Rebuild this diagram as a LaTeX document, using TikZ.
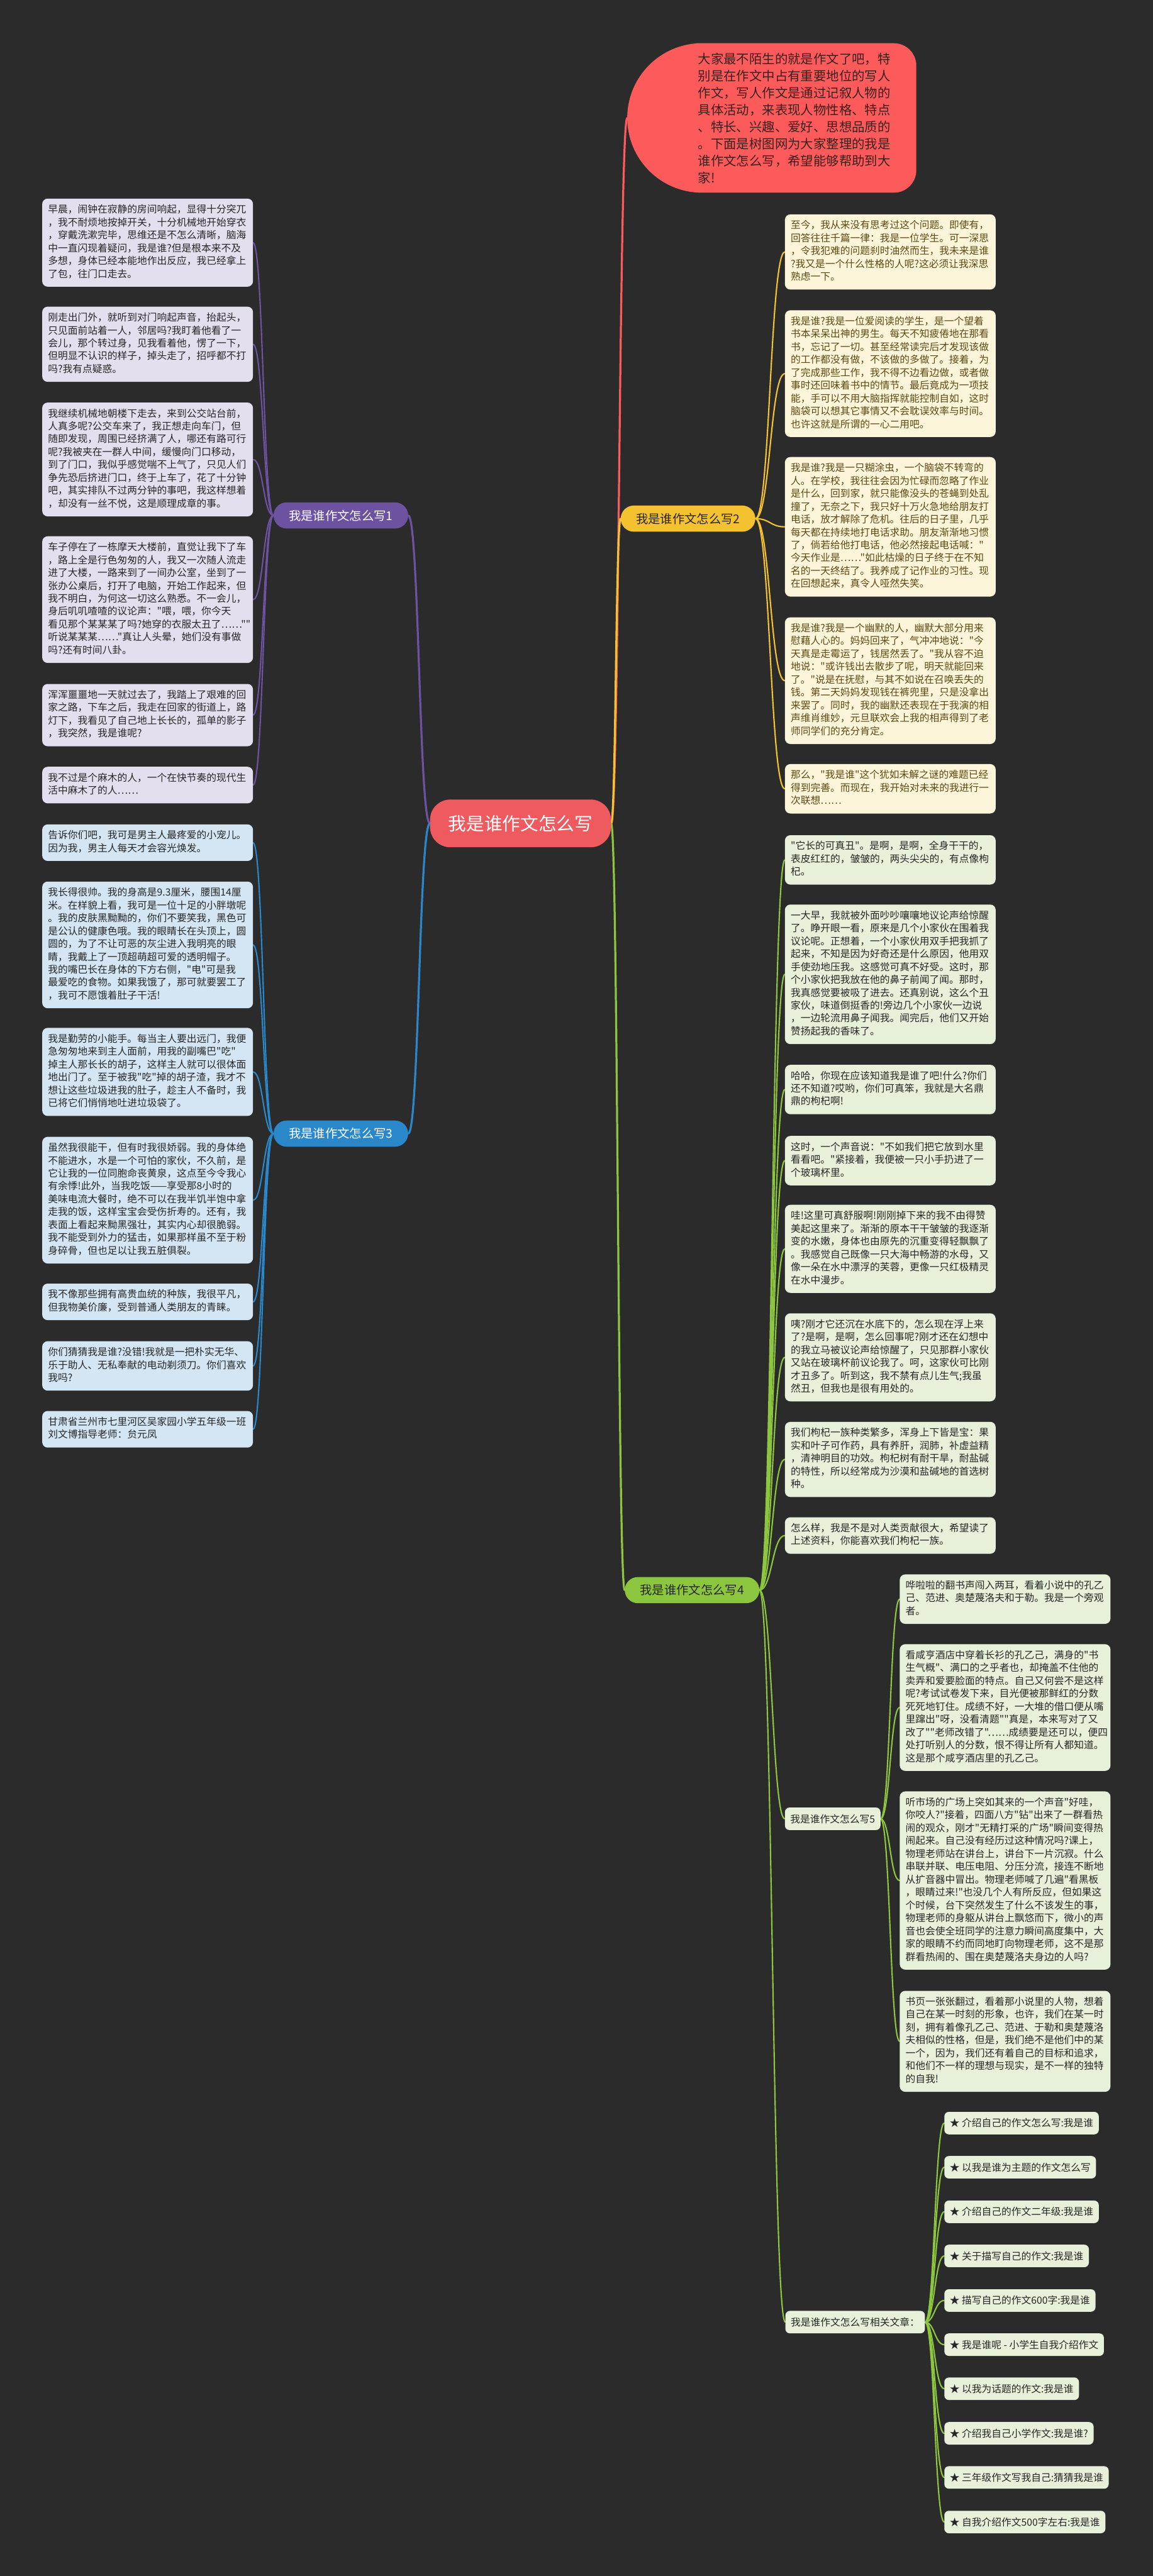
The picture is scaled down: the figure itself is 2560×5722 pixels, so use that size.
\documentclass[tikz,border=0pt]{standalone}
\usepackage{fontspec}
\setmainfont{Noto Sans CJK SC}[Ligatures=TeXOff]
\usetikzlibrary{calc,backgrounds}

\definecolor{pagebg}{HTML}{2B2B2B}
\definecolor{rootred}{HTML}{EF5A5E}
\definecolor{introred}{HTML}{FD5B5B}
\definecolor{introink}{HTML}{3A1E1E}
\definecolor{purplemain}{HTML}{6C52A1}
\definecolor{purpleleaf}{HTML}{E3DFEF}
\definecolor{yellowmain}{HTML}{F4C131}
\definecolor{yellowleaf}{HTML}{FDF5DA}
\definecolor{yellowink}{HTML}{5C4812}
\definecolor{bluemain}{HTML}{2A88CA}
\definecolor{blueleaf}{HTML}{D4E6F3}
\definecolor{greenmain}{HTML}{8CC63F}
\definecolor{greenleaf}{HTML}{E7F1D9}
\definecolor{leafink}{HTML}{262626}

\tikzset{
  link/.style={line width=3pt, line cap=round,
    to path={.. controls ($(\tikztostart)!.5!(\tikztostart -| \tikztotarget)$)
      and ($(\tikztotarget)!.5!(\tikztotarget -| \tikztostart)$) .. (\tikztotarget)}},
  mainlink/.style={link, line width=4.5pt},
  rootnode/.style={fill=rootred, text=white, rounded corners=45pt, minimum width=402pt,
    minimum height=106pt, font=\fontsize{40}{48}\selectfont},
  introtext/.style={text=introink, text width=430pt, align=left, inner sep=0pt,
    font=\fontsize{28.5}{37.7}\selectfont, execute at begin node=\strut, execute at end node=\strut},
  branch/.style={rounded corners=29pt, minimum height=58pt, inner xsep=34pt, font=\fontsize{27}{32}\selectfont},
  leaf/.style={rounded corners=12pt, text width=442pt, align=left, inner xsep=13pt, inner ysep=12pt,
    font=\fontsize{22}{28.6}\selectfont, execute at begin node=\strut, execute at end node=\strut},
  leafL/.style={leaf, anchor=north east},
  leafR/.style={leaf, anchor=north west},
  subnode/.style={fill=greenleaf, text=leafink, rounded corners=10pt, minimum height=50pt,
    inner xsep=12pt, anchor=west, font=\fontsize{22}{26}\selectfont},
  item/.style={subnode},
}

\begin{document}
\begin{tikzpicture}[x=1pt,y=-1pt]
% centre and intro
\node[rootnode] (root) at (1156,1829) {我是谁作文怎么写};
\fill[introred] [rounded corners=50pt] (1700,96) -- (2035,96) -- (2035,428) -- (1700,428)
  [rounded corners=166pt] -- (1393,428) -- (1393,96) -- cycle;
\coordinate (intro) at (1393,262);
\node[introtext, anchor=north west] (introtxt) at (1550,115) {大家最不陌生的就是作文了吧，特\\别是在作文中占有重要地位的写人\\作文，写人作文是通过记叙人物的\\具体活动，来表现人物性格、特点\\、特长、兴趣、爱好、思想品质的\\。下面是树图网为大家整理的我是\\谁作文怎么写，希望能够帮助到大\\家!};

% main branches
\node[branch, fill=purplemain, text=white] (b1) at (757,1145) {我是谁作文怎么写1};
\node[branch, fill=yellowmain, text=leafink] (b2) at (1528,1152) {我是谁作文怎么写2};
\node[branch, fill=bluemain, text=white] (b3) at (757,2518) {我是谁作文怎么写3};
\node[branch, fill=greenmain, text=leafink] (b4) at (1537,3532) {我是谁作文怎么写4};

% branch 1
\node[leafL, fill=purpleleaf, text=leafink] (p1) at (562,441) {早晨，闹钟在寂静的房间响起，显得十分突兀\\，我不耐烦地按掉开关，十分机械地开始穿衣\\，穿戴洗漱完毕，思维还是不怎么清晰，脑海\\中一直闪现着疑问，我是谁?但是根本来不及\\多想，身体已经本能地作出反应，我已经拿上\\了包，往门口走去。};
\node[leafL, fill=purpleleaf, text=leafink] (p2) at (562,681) {刚走出门外，就听到对门响起声音，抬起头，\\只见面前站着一人，邻居吗?我盯着他看了一\\会儿，那个转过身，见我看着他，愣了一下，\\但明显不认识的样子，掉头走了，招呼都不打\\吗?我有点疑惑。};
\node[leafL, fill=purpleleaf, text=leafink] (p3) at (562,894) {我继续机械地朝楼下走去，来到公交站台前，\\人真多呢?公交车来了，我正想走向车门，但\\随即发现，周围已经挤满了人，哪还有路可行\\呢?我被夹在一群人中间，缓慢向门口移动，\\到了门口，我似乎感觉喘不上气了，只见人们\\争先恐后挤进门口，终于上车了，花了十分钟\\吧，其实排队不过两分钟的事吧，我这样想着\\，却没有一丝不悦，这是顺理成章的事。};
\node[leafL, fill=purpleleaf, text=leafink] (p4) at (562,1191) {车子停在了一栋摩天大楼前，直觉让我下了车\\，路上全是行色匆匆的人，我又一次随人流走\\进了大楼，一路来到了一间办公室，坐到了一\\张办公桌后，打开了电脑，开始工作起来，但\\我不明白，为何这一切这么熟悉。不一会儿，\\身后叽叽喳喳的议论声："喂，喂，你今天\\看见那个某某某了吗?她穿的衣服太丑了……""\\听说某某某……"真让人头晕，她们没有事做\\吗?还有时间八卦。};
\node[leafL, fill=purpleleaf, text=leafink] (p5) at (562,1519) {浑浑噩噩地一天就过去了，我踏上了艰难的回\\家之路，下车之后，我走在回家的街道上，路\\灯下，我看见了自己地上长长的，孤单的影子\\，我突然，我是谁呢?};
\node[leafL, fill=purpleleaf, text=leafink] (p6) at (562,1703) {我不过是个麻木的人，一个在快节奏的现代生\\活中麻木了的人……};

% branch 2
\node[leafR, fill=yellowleaf, text=yellowink] (y1) at (1743,476) {至今，我从来没有思考过这个问题。即使有，\\回答往往千篇一律：我是一位学生。可一深思\\，令我犯难的问题刹时油然而生，我未来是谁\\?我又是一个什么性格的人呢?这必须让我深思\\熟虑一下。};
\node[leafR, fill=yellowleaf, text=yellowink] (y2) at (1743,689) {我是谁?我是一位爱阅读的学生，是一个望着\\书本呆呆出神的男生。每天不知疲倦地在那看\\书，忘记了一切。甚至经常读完后才发现该做\\的工作都没有做，不该做的多做了。接着，为\\了完成那些工作，我不得不边看边做，或者做\\事时还回味着书中的情节。最后竟成为一项技\\能，手可以不用大脑指挥就能控制自如，这时\\脑袋可以想其它事情又不会耽误效率与时间。\\也许这就是所谓的一心二用吧。};
\node[leafR, fill=yellowleaf, text=yellowink] (y3) at (1743,1015) {我是谁?我是一只糊涂虫，一个脑袋不转弯的\\人。在学校，我往往会因为忙碌而忽略了作业\\是什么，回到家，就只能像没头的苍蝇到处乱\\撞了，无奈之下，我只好十万火急地给朋友打\\电话，放才解除了危机。往后的日子里，几乎\\每天都在持续地打电话求助。朋友渐渐地习惯\\了，倘若给他打电话，他必然接起电话喊："\\今天作业是……"如此枯燥的日子终于在不知\\名的一天终结了。我养成了记作业的习性。现\\在回想起来，真令人哑然失笑。};
\node[leafR, fill=yellowleaf, text=yellowink] (y4) at (1743,1371) {我是谁?我是一个幽默的人，幽默大部分用来\\慰藉人心的。妈妈回来了，气冲冲地说："今\\天真是走霉运了，钱居然丢了。"我从容不迫\\地说："或许钱出去散步了呢，明天就能回来\\了。"说是在抚慰，与其不如说在召唤丢失的\\钱。第二天妈妈发现钱在裤兜里，只是没拿出\\来罢了。同时，我的幽默还表现在于我演的相\\声维肖维妙，元旦联欢会上我的相声得到了老\\师同学们的充分肯定。};
\node[leafR, fill=yellowleaf, text=yellowink] (y5) at (1743,1697) {那么，"我是谁"这个犹如未解之谜的难题已经\\得到完善。而现在，我开始对未来的我进行一\\次联想……};

% branch 3
\node[leafL, fill=blueleaf, text=leafink] (u1) at (562,1831) {告诉你们吧，我可是男主人最疼爱的小宠儿。\\因为我，男主人每天才会容光焕发。};
\node[leafL, fill=blueleaf, text=leafink] (u2) at (562,1958) {我长得很帅。我的身高是9.3厘米，腰围14厘\\米。在样貌上看，我可是一位十足的小胖墩呢\\。我的皮肤黑黝黝的，你们不要笑我，黑色可\\是公认的健康色哦。我的眼睛长在头顶上，圆\\圆的，为了不让可恶的灰尘进入我明亮的眼\\睛，我戴上了一顶超萌超可爱的透明帽子。\\我的嘴巴长在身体的下方右侧，"电"可是我\\最爱吃的食物。如果我饿了，那可就要罢工了\\，我可不愿饿着肚子干活!};
\node[leafL, fill=blueleaf, text=leafink] (u3) at (562,2283) {我是勤劳的小能手。每当主人要出远门，我便\\急匆匆地来到主人面前，用我的副嘴巴"吃"\\掉主人那长长的胡子，这样主人就可以很体面\\地出门了。至于被我"吃"掉的胡子渣，我才不\\想让这些垃圾进我的肚子，趁主人不备时，我\\已将它们悄悄地吐进垃圾袋了。};
\node[leafL, fill=blueleaf, text=leafink] (u4) at (562,2525) {虽然我很能干，但有时我很娇弱。我的身体绝\\不能进水，水是一个可怕的家伙，不久前，是\\它让我的一位同胞命丧黄泉，这点至今令我心\\有余悸!此外，当我吃饭——享受那8小时的\\美味电流大餐时，绝不可以在我半饥半饱中拿\\走我的饭，这样宝宝会受伤折寿的。还有，我\\表面上看起来黝黑强壮，其实内心却很脆弱。\\我不能受到外力的猛击，如果那样虽不至于粉\\身碎骨，但也足以让我五脏俱裂。};
\node[leafL, fill=blueleaf, text=leafink] (u5) at (562,2851) {我不像那些拥有高贵血统的种族，我很平凡，\\但我物美价廉，受到普通人类朋友的青睐。};
\node[leafL, fill=blueleaf, text=leafink] (u6) at (562,2979) {你们猜猜我是谁?没错!我就是一把朴实无华、\\乐于助人、无私奉献的电动剃须刀。你们喜欢\\我吗?};
\node[leafL, fill=blueleaf, text=leafink] (u7) at (562,3134) {甘肃省兰州市七里河区吴家园小学五年级一班\\刘文博指导老师：贠元凤};

% branch 4
\node[leafR, fill=greenleaf, text=leafink] (g1) at (1743,1855) {"它长的可真丑"。是啊，是啊，全身干干的，\\表皮红红的，皱皱的，两头尖尖的，有点像枸\\杞。};
\node[leafR, fill=greenleaf, text=leafink] (g2) at (1743,2009) {一大早，我就被外面吵吵嚷嚷地议论声给惊醒\\了。睁开眼一看，原来是几个小家伙在围着我\\议论呢。正想着，一个小家伙用双手把我抓了\\起来，不知是因为好奇还是什么原因，他用双\\手使劲地压我。这感觉可真不好受。这时，那\\个小家伙把我放在他的鼻子前闻了闻。那时，\\我真感觉要被吸了进去。还真别说，这么个丑\\家伙，味道倒挺香的!旁边几个小家伙一边说\\，一边轮流用鼻子闻我。闻完后，他们又开始\\赞扬起我的香味了。};
\node[leafR, fill=greenleaf, text=leafink] (g3) at (1743,2365) {哈哈，你现在应该知道我是谁了吧!什么?你们\\还不知道?哎哟，你们可真笨，我就是大名鼎\\鼎的枸杞啊!};
\node[leafR, fill=greenleaf, text=leafink] (g4) at (1743,2523) {这时，一个声音说："不如我们把它放到水里\\看看吧。"紧接着，我便被一只小手扔进了一\\个玻璃杯里。};
\node[leafR, fill=greenleaf, text=leafink] (g5) at (1743,2676) {哇!这里可真舒服啊!刚刚掉下来的我不由得赞\\美起这里来了。渐渐的原本干干皱皱的我逐渐\\变的水嫩，身体也由原先的沉重变得轻飘飘了\\。我感觉自己既像一只大海中畅游的水母，又\\像一朵在水中漂浮的芙蓉，更像一只红极精灵\\在水中漫步。};
\node[leafR, fill=greenleaf, text=leafink] (g6) at (1743,2917) {咦?刚才它还沉在水底下的，怎么现在浮上来\\了?是啊，是啊，怎么回事呢?刚才还在幻想中\\的我立马被议论声给惊醒了，只见那群小家伙\\又站在玻璃杯前议论我了。呵，这家伙可比刚\\才丑多了。听到这，我不禁有点儿生气;我虽\\然丑，但我也是很有用处的。};
\node[leafR, fill=greenleaf, text=leafink] (g7) at (1743,3158) {我们枸杞一族种类繁多，浑身上下皆是宝：果\\实和叶子可作药，具有养肝，润肺，补虚益精\\，清神明目的功效。枸杞树有耐干旱，耐盐碱\\的特性，所以经常成为沙漠和盐碱地的首选树\\种。};
\node[leafR, fill=greenleaf, text=leafink] (g8) at (1743,3370) {怎么样，我是不是对人类贡献很大，希望读了\\上述资料，你能喜欢我们枸杞一族。};
\node[subnode] (b5) at (1743,4040) {我是谁作文怎么写5};
\node[subnode] (rel) at (1744,5158) {我是谁作文怎么写相关文章：};

% branch 5
\node[leafR, fill=greenleaf, text=leafink] (f1) at (1998,3497) {哗啦啦的翻书声闯入两耳，看着小说中的孔乙\\己、范进、奥楚蔑洛夫和于勒。我是一个旁观\\者。};
\node[leafR, fill=greenleaf, text=leafink] (f2) at (1998,3652) {看咸亨酒店中穿着长衫的孔乙己，满身的"书\\生气概"、满口的之乎者也，却掩盖不住他的\\卖弄和爱要脸面的特点。自己又何尝不是这样\\呢?考试试卷发下来，目光便被那鲜红的分数\\死死地钉住。成绩不好，一大堆的借口便从嘴\\里蹿出"呀，没看清题""真是，本来写对了又\\改了""老师改错了"……成绩要是还可以，便四\\处打听别人的分数，恨不得让所有人都知道。\\这是那个咸亨酒店里的孔乙己。};
\node[leafR, fill=greenleaf, text=leafink] (f3) at (1998,3979) {听市场的广场上突如其来的一个声音"好哇，\\你咬人?"接着，四面八方"钻"出来了一群看热\\闹的观众，刚才"无精打采的广场"瞬间变得热\\闹起来。自己没有经历过这种情况吗?课上，\\物理老师站在讲台上，讲台下一片沉寂。什么\\串联并联、电压电阻、分压分流，接连不断地\\从扩音器中冒出。物理老师喊了几遍"看黑板\\，眼睛过来!"也没几个人有所反应，但如果这\\个时候，台下突然发生了什么不该发生的事，\\物理老师的身躯从讲台上飘悠而下，微小的声\\音也会使全班同学的注意力瞬间高度集中，大\\家的眼睛不约而同地盯向物理老师，这不是那\\群看热闹的、围在奥楚蔑洛夫身边的人吗?};
\node[leafR, fill=greenleaf, text=leafink] (f4) at (1998,4422) {书页一张张翻过，看着那小说里的人物，想着\\自己在某一时刻的形象，也许，我们在某一时\\刻，拥有着像孔乙己、范进、于勒和奥楚蔑洛\\夫相似的性格，但是，我们绝不是他们中的某\\一个，因为，我们还有着自己的目标和追求，\\和他们不一样的理想与现实，是不一样的独特\\的自我!};

% related articles
\node[item] (s1) at (2097,4716) {★ 介绍自己的作文怎么写:我是谁};
\node[item] (s2) at (2097,4814) {★ 以我是谁为主题的作文怎么写};
\node[item] (s3) at (2097,4913) {★ 介绍自己的作文二年级:我是谁};
\node[item] (s4) at (2097,5011) {★ 关于描写自己的作文:我是谁};
\node[item] (s5) at (2097,5110) {★ 描写自己的作文600字:我是谁};
\node[item] (s6) at (2097,5208) {★ 我是谁呢 - 小学生自我介绍作文};
\node[item] (s7) at (2097,5306) {★ 以我为话题的作文:我是谁};
\node[item] (s8) at (2097,5405) {★ 介绍我自己小学作文:我是谁?};
\node[item] (s9) at (2097,5503) {★ 三年级作文写我自己:猜猜我是谁};
\node[item] (s10) at (2097,5602) {★ 自我介绍作文500字左右:我是谁};

\begin{scope}[on background layer]
\fill[pagebg] (0,0) rectangle (2560,5722);
% main links
\draw[mainlink, introred] (root.east) to (intro);
\draw[mainlink, yellowmain] (root.east) to (b2.west);
\draw[mainlink, greenmain] (root.east) to (b4.west);
\draw[mainlink, purplemain] (root.west) to (b1.east);
\draw[mainlink, bluemain] (root.west) to (b3.east);
% branch 1
\draw[link, purplemain] (b1.west) to (p1.east);
\draw[link, purplemain] (b1.west) to (p2.east);
\draw[link, purplemain] (b1.west) to (p3.east);
\draw[link, purplemain] (b1.west) to (p4.east);
\draw[link, purplemain] (b1.west) to (p5.east);
\draw[link, purplemain] (b1.west) to (p6.east);
% branch 2
\draw[link, yellowmain] (b2.east) to (y1.west);
\draw[link, yellowmain] (b2.east) to (y2.west);
\draw[link, yellowmain] (b2.east) to (y3.west);
\draw[link, yellowmain] (b2.east) to (y4.west);
\draw[link, yellowmain] (b2.east) to (y5.west);
% branch 3
\draw[link, bluemain] (b3.west) to (u1.east);
\draw[link, bluemain] (b3.west) to (u2.east);
\draw[link, bluemain] (b3.west) to (u3.east);
\draw[link, bluemain] (b3.west) to (u4.east);
\draw[link, bluemain] (b3.west) to (u5.east);
\draw[link, bluemain] (b3.west) to (u6.east);
\draw[link, bluemain] (b3.west) to (u7.east);
% branch 4
\draw[link, greenmain] (b4.east) to (g1.west);
\draw[link, greenmain] (b4.east) to (g2.west);
\draw[link, greenmain] (b4.east) to (g3.west);
\draw[link, greenmain] (b4.east) to (g4.west);
\draw[link, greenmain] (b4.east) to (g5.west);
\draw[link, greenmain] (b4.east) to (g6.west);
\draw[link, greenmain] (b4.east) to (g7.west);
\draw[link, greenmain] (b4.east) to (g8.west);
\draw[link, greenmain] (b4.east) to (b5.west);
\draw[link, greenmain] (b4.east) to (rel.west);
% branch 5
\draw[link, greenmain] (b5.east) to (f1.west);
\draw[link, greenmain] (b5.east) to (f2.west);
\draw[link, greenmain] (b5.east) to (f3.west);
\draw[link, greenmain] (b5.east) to (f4.west);
% related
\draw[link, greenmain] (rel.east) to (s1.west);
\draw[link, greenmain] (rel.east) to (s2.west);
\draw[link, greenmain] (rel.east) to (s3.west);
\draw[link, greenmain] (rel.east) to (s4.west);
\draw[link, greenmain] (rel.east) to (s5.west);
\draw[link, greenmain] (rel.east) to (s6.west);
\draw[link, greenmain] (rel.east) to (s7.west);
\draw[link, greenmain] (rel.east) to (s8.west);
\draw[link, greenmain] (rel.east) to (s9.west);
\draw[link, greenmain] (rel.east) to (s10.west);
\end{scope}
\end{tikzpicture}
\end{document}
